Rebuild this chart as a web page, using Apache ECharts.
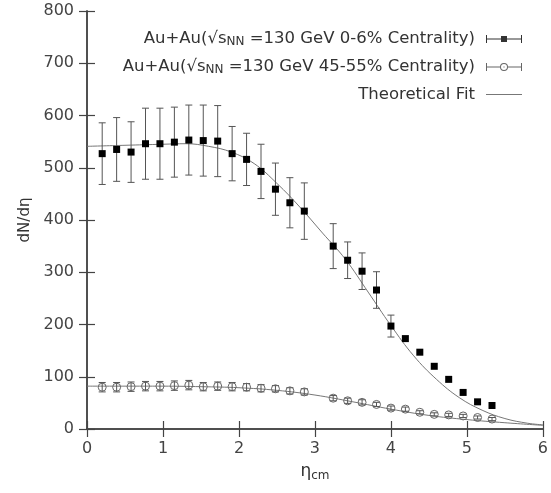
<!DOCTYPE html>
<html>
<head>
<meta charset="utf-8">
<script src="https://cdn.jsdelivr.net/npm/echarts@6/dist/echarts.min.js"></script>
<style>
  html, body { margin: 0; padding: 0; background: #fff; }
  #chart { width: 551px; height: 493px; }
</style>
</head>
<body>
<div id="chart"></div>
<script>
// eta_cm positions of the measured points (same for both centralities)
const eta = [0.2, 0.39, 0.58, 0.77, 0.96, 1.15, 1.34, 1.53, 1.72, 1.91, 2.1, 2.29, 2.48, 2.67, 2.86,
  3.24, 3.43, 3.62, 3.81, 4.0, 4.19, 4.38, 4.57, 4.76, 4.95, 5.14, 5.33];

// 0-6% centrality
const central = [527, 535, 530, 546, 546, 549, 553, 552, 551, 527, 516, 493, 459, 433, 417,
  350, 323, 302, 266, 197, 173, 147, 120, 95, 70, 52, 45];
const centralErr = [59, 61, 58, 68, 68, 67, 67, 68, 68, 52, 50, 52, 50, 48, 54,
  43, 35, 35, 35, 21, 0, 0, 0, 0, 0, 0, 0];

// 45-55% centrality
const peripheral = [80, 80, 81, 82, 82, 83, 84, 81, 82, 81, 80, 78, 77, 73, 71,
  59, 54, 51, 47, 40, 38, 32, 28, 27, 25, 22, 19];
const peripheralErr = [9, 9, 9, 9, 9, 9, 9, 8, 8, 8, 7, 7, 6, 6, 6,
  5, 5, 5, 4, 4, 4, 3, 3, 3, 3, 3, 3];

// theoretical fit curves
const fitEta = [0, 0.5, 1.0, 1.3, 1.6, 1.9, 2.2, 2.5, 2.8, 3.1, 3.4, 3.7, 4.0, 4.3, 4.6, 4.9, 5.2, 5.5, 5.8, 6.0];
const fitCentral = [541, 543, 545, 546, 541, 530, 508, 470, 425, 375, 325, 262, 198, 140, 95, 60, 36, 20, 11, 8];
const fitPeriEta = [0, 0.5, 1.0, 1.5, 2.0, 2.5, 3.0, 3.5, 4.0, 4.5, 5.0, 5.5, 6.0];
const fitPeripheral = [82, 82, 82, 81, 79, 74, 65, 52, 38, 26, 18, 12, 7];

const xTicks = [0, 1, 2, 3, 4, 5, 6];
const yTicks = [0, 100, 200, 300, 400, 500, 600, 700, 800];

const NAME1 = "c0";
const NAME2 = "c45";
const NAME3 = "Theoretical Fit";
const labels = {
  c0: "{n|Au+Au(√s}{sub|NN}{n| =130 GeV 0-6% Centrality)}",
  c45: "{n|Au+Au(√s}{sub|NN}{n| =130 GeV 45-55% Centrality)}",
  "Theoretical Fit": "{n|Theoretical Fit}"
};

const zip = (xs, ys, es) => xs.map((x, i) => es ? [x, ys[i], es[i]] : [x, ys[i]]);

const barColor = "#555";

function errRender(filled) {
  return function (params, api) {
    const x = api.value(0), y = api.value(1), e = api.value(2);
    const c = api.coord([x, y]);
    const kids = [];
    if (e > 0) {
      const t = api.coord([x, y + e]);
      const b = api.coord([x, y - e]);
      const st = { stroke: barColor, lineWidth: 1 };
      kids.push({ type: "line", shape: { x1: c[0], y1: t[1], x2: c[0], y2: b[1] }, style: st });
      kids.push({ type: "line", shape: { x1: c[0] - 3.5, y1: t[1], x2: c[0] + 3.5, y2: t[1] }, style: st });
      kids.push({ type: "line", shape: { x1: c[0] - 3.5, y1: b[1], x2: c[0] + 3.5, y2: b[1] }, style: st });
    }
    if (filled) {
      kids.push({ type: "rect", shape: { x: c[0] - 3.5, y: c[1] - 3.5, width: 7, height: 7 }, style: { fill: "#000" } });
    } else {
      kids.push({ type: "circle", shape: { cx: c[0], cy: c[1], r: 4 }, style: { fill: "none", stroke: "#666", lineWidth: 1 } });
    }
    return { type: "group", children: kids };
  };
}

const iconFilled = "path://M0,1h1v8h-1Z M35,1h1v8h-1Z M0,4.5h36v1h-36Z M15,2h6v6h-6Z";
const iconOpen = "path://M0,1h1v8h-1Z M35,1h1v8h-1Z M0,4.5h14v1h-14Z M22,4.5h14v1h-14Z " +
  "M14,5a4,4 0 1,0 8,0a4,4 0 1,0 -8,0Z M15,5a3,3 0 1,1 6,0a3,3 0 1,1 -6,0Z M17.5,4.5h1v1h-1Z";
const iconLine = "path://M0,4.5h36v1h-36Z";

const axisCol = "#444";
const font = "DejaVu Sans";

const chart = echarts.init(document.getElementById("chart"), null, { renderer: "canvas" });

chart.setOption({
  animation: false,
  backgroundColor: "#fff",
  grid: { left: 87, right: 2, top: 11, bottom: 64 },
  legend: {
    orient: "vertical",
    right: 24,
    top: 25,
    align: "right",
    itemWidth: 36,
    itemHeight: 10,
    itemGap: 10,
    selectedMode: false,
    data: [
      { name: NAME1, icon: iconFilled, itemStyle: { color: "#333" } },
      { name: NAME2, icon: iconOpen, itemStyle: { color: "#666" } },
      { name: NAME3, icon: iconLine, itemStyle: { color: "#777" } }
    ],
    formatter: (name) => labels[name],
    textStyle: {
      padding: [0, 6, 0, 0],
      rich: {
        n: { fontFamily: font, fontSize: 16.5, color: "#333", lineHeight: 18, verticalAlign: "middle" },
        sub: { fontFamily: font, fontSize: 12, color: "#333", lineHeight: 18, verticalAlign: "bottom", padding: [6, 0, 0, 0] }
      }
    }
  },
  xAxis: [
    {
      type: "value", min: xTicks[0], max: xTicks[xTicks.length - 1], interval: 1,
      name: "{e|η}{s|cm}", nameLocation: "middle", nameGap: 33,
      nameTextStyle: {
        rich: {
          e: { fontFamily: font, fontSize: 17, color: "#333" },
          s: { fontFamily: font, fontSize: 12, color: "#333", padding: [8, 0, 0, 0] }
        }
      },
      axisLine: { lineStyle: { color: axisCol, width: 1.5 } },
      axisTick: { inside: true, length: 8, lineStyle: { color: axisCol, width: 1.2 } },
      axisLabel: { fontFamily: font, fontSize: 16, color: "#444", margin: 12 },
      splitLine: { show: false }
    },
    {
      type: "value", position: "top", min: xTicks[0], max: xTicks[xTicks.length - 1], interval: 1,
      axisLine: { show: true, lineStyle: { color: axisCol, width: 1.5 } },
      axisTick: { inside: true, length: 8, lineStyle: { color: axisCol, width: 1.2 } },
      axisLabel: { show: false },
      splitLine: { show: false }
    }
  ],
  yAxis: [
    {
      type: "value", min: yTicks[0], max: yTicks[yTicks.length - 1], interval: 100,
      name: "dN/dη", nameLocation: "middle", nameGap: 47, nameRotate: 90,
      nameTextStyle: { fontFamily: font, fontSize: 15, color: "#333" },
      axisLine: { show: true, lineStyle: { color: axisCol, width: 1.5 } },
      axisTick: { show: true, inside: true, length: 8, lineStyle: { color: axisCol, width: 1.2 } },
      axisLabel: { fontFamily: font, fontSize: 16, color: "#444", margin: 13 },
      splitLine: { show: false }
    },
    {
      type: "value", position: "right", min: yTicks[0], max: yTicks[yTicks.length - 1], interval: 100,
      axisLine: { show: true, lineStyle: { color: axisCol, width: 1.5 } },
      axisTick: { show: true, inside: true, length: 8, lineStyle: { color: axisCol, width: 1.2 } },
      axisLabel: { show: false },
      splitLine: { show: false }
    }
  ],
  series: [
    {
      name: NAME3, type: "line", smooth: 0.4, showSymbol: false, symbol: "none",
      data: zip(fitEta, fitCentral),
      lineStyle: { color: "#777", width: 1 }, itemStyle: { color: "#777" }, z: 1
    },
    {
      name: NAME3, type: "line", smooth: 0.4, showSymbol: false, symbol: "none",
      data: zip(fitPeriEta, fitPeripheral),
      lineStyle: { color: "#777", width: 1 }, itemStyle: { color: "#777" }, z: 1
    },
    {
      name: NAME1, type: "custom", renderItem: errRender(true),
      data: zip(eta, central, centralErr), encode: { x: 0, y: 1 }, itemStyle: { color: "#333" }, z: 3
    },
    {
      name: NAME2, type: "custom", renderItem: errRender(false),
      data: zip(eta, peripheral, peripheralErr), encode: { x: 0, y: 1 }, itemStyle: { color: "#666" }, z: 3
    }
  ]
});
</script>
</body>
</html>
